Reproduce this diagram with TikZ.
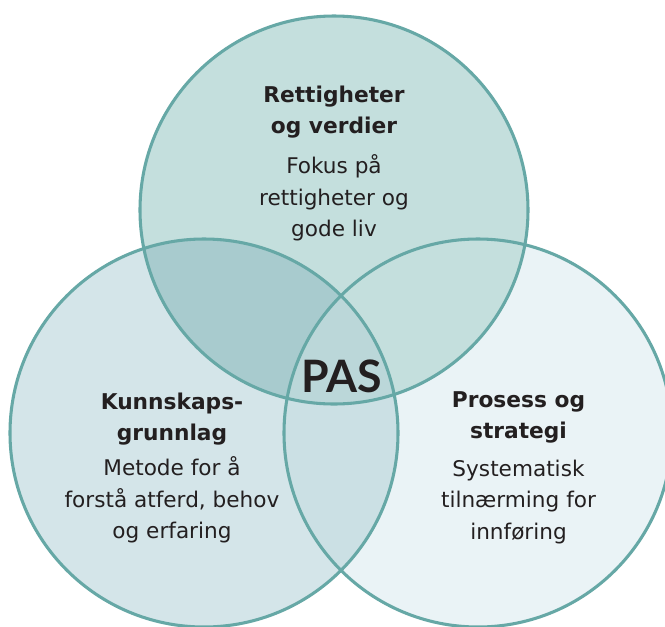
\documentclass[tikz,border=0pt]{standalone}
\usepackage{fontspec}
\setmainfont{DejaVu Sans}
\newfontfamily\pasfont{Lato}

\definecolor{ring}{HTML}{66A8A6}
\definecolor{inkdark}{HTML}{231F20}
\definecolor{topfill}{HTML}{C4DFDD}
\definecolor{leftfill}{HTML}{D4E5E9}
\definecolor{rightfill}{HTML}{EAF3F6}
\definecolor{topleftfill}{HTML}{A8CBCE}
\definecolor{toprightfill}{HTML}{C4DFDD}
\definecolor{leftrightfill}{HTML}{CBE0E4}
\definecolor{centrefill}{HTML}{BBD7D9}

\begin{document}
\begin{tikzpicture}[x=0.75pt,y=-0.75pt,
  outline/.style={draw=ring,line width=2.3pt},
  % multi-line nodes: the base anchor sits on the last line's baseline
  titletext/.style={anchor=base,align=center,text=inkdark,inner sep=0pt,
    font=\bfseries\fontsize{16.3}{22.9}\selectfont},
  bodytext/.style={anchor=base,align=center,text=inkdark,inner sep=0pt,
    font=\fontsize{16.2}{23.6}\selectfont},
  centretext/.style={anchor=base,text=inkdark,inner sep=0pt,
    font=\pasfont\bfseries\fontsize{33.5}{36}\selectfont}]

\useasboundingbox[fill=white] (0,0) rectangle (665,626);

% circle centres
\coordinate (cT) at (334,210);
\coordinate (cL) at (204,433);
\coordinate (cR) at (478,433);
\def\rr{145.5pt}

% single-circle fills
\fill[rightfill] (cR) circle[radius=\rr];
\fill[leftfill] (cL) circle[radius=\rr];
\fill[topfill] (cT) circle[radius=\rr];

% pairwise overlaps
\begin{scope}
  \clip (cT) circle[radius=\rr];
  \fill[topleftfill] (cL) circle[radius=\rr];
  \fill[toprightfill] (cR) circle[radius=\rr];
\end{scope}
\begin{scope}
  \clip (cL) circle[radius=\rr];
  \fill[leftrightfill] (cR) circle[radius=\rr];
\end{scope}

% triple overlap
\begin{scope}
  \clip (cT) circle[radius=\rr];
  \clip (cL) circle[radius=\rr];
  \fill[centrefill] (cR) circle[radius=\rr];
\end{scope}

% outlines
\draw[outline] (cL) circle[radius=\rr];
\draw[outline] (cR) circle[radius=\rr];
\draw[outline] (cT) circle[radius=\rr];

% texts
\node[titletext] (topTitle) at (334,133) {Rettigheter\\og verdier};
\node[bodytext] (topBody) at (334,236.5) {Fokus på\\rettigheter og\\gode liv};

\node[titletext] (leftTitle) at (172,440) {Kunnskaps-\\grunnlag};
\node[bodytext] (leftBody) at (172,538.5) {Metode for å\\forstå atferd, behov\\og erfaring};

\node[titletext] (rightTitle) at (518.5,438) {Prosess og\\strategi};
\node[bodytext] (rightBody) at (518.5,539) {Systematisk\\tilnærming for\\innføring};

\node[centretext] (pas) at (341.5,392) {PAS};
\end{tikzpicture}
\end{document}
